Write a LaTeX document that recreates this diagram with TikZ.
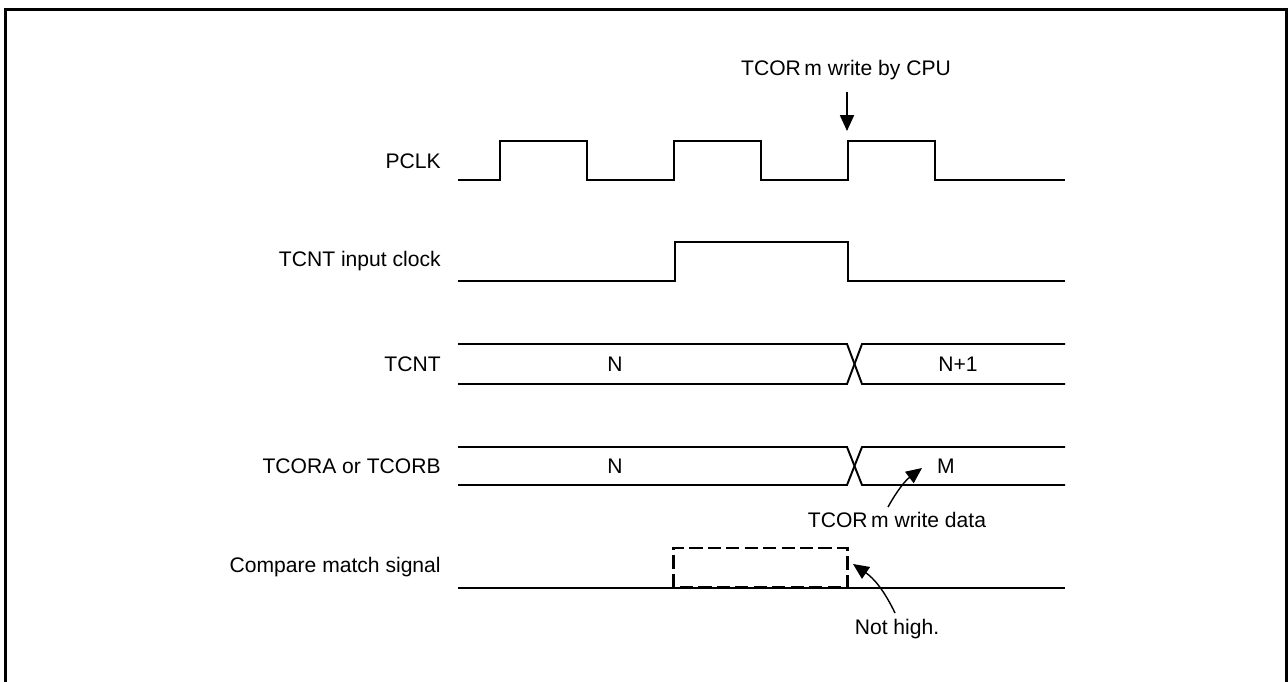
\documentclass[tikz,border=0pt]{standalone}
\usepackage{fontspec}
\setmainfont{Liberation Sans}
\usepackage{tikz}
\usetikzlibrary{arrows.meta,calc}

\begin{document}
\begin{tikzpicture}[x=0.02cm,y=-0.02cm,>={Triangle[length=9pt,width=8pt]},
  signal/.style={line width=1.1pt,line join=miter},
  etiqueta/.style={anchor=east,inner sep=0pt,font=\fontsize{12}{14}\selectfont},
  texto/.style={inner sep=1pt,font=\fontsize{12}{14}\selectfont}]
  \useasboundingbox (0,0) rectangle (1288,682);
  \draw[line width=1.8pt] (5.5,690) -- (5.5,9.5) -- (1286.5,9.5) -- (1286.5,690);
  \node[etiqueta] (pclk) at (441,161) {PCLK};
  \node[etiqueta] (inclk) at (441,261) {TCNT input clock};
  \node[etiqueta] (tcnt) at (441,364) {TCNT};
  \node[etiqueta] (tcor) at (441,466) {TCORA or TCORB};
  \node[etiqueta] (cmp) at (441,567) {Compare match signal};
  \draw[signal] (458,180) -- (500,180) -- (500,141) -- (587,141) -- (587,180)
    -- (674,180) -- (674,141) -- (761,141) -- (761,180) -- (848,180) -- (848,141)
    -- (935,141) -- (935,180) -- (1065,180);
  \draw[signal] (458,281) -- (675,281) -- (675,242) -- (848,242) -- (848,281) -- (1065,281);
  \draw[signal] (458,344) -- (847,344) -- (862,384) -- (1065,384);
  \draw[signal] (458,384) -- (847,384) -- (862,344) -- (1065,344);
  \draw[signal] (458,447) -- (847,447) -- (862,485) -- (1065,485);
  \draw[signal] (458,485) -- (847,485) -- (862,447) -- (1065,447);
  \draw[signal] (458,588) -- (1065,588);
  \draw[line width=1.7pt,dash pattern=on 7.5pt off 3pt] (673,587) rectangle (847,548);
  \node[texto] (nA) at (615,364) {N};
  \node[texto] (nB) at (958,364) {N+1};
  \node[texto] (nC) at (615,466) {N};
  \node[texto] (mC) at (946,466) {M};
  \node[texto] (cpu) at (846,70) {TCOR\,m write by CPU};
  \node[texto] (dato) at (897,520) {TCOR\,m write data};
  \node[texto] (alto) at (897,629) {Not high.};
  \coordinate (scpu) at (847,92);
  \coordinate (pcpu) at (847,131);
  \coordinate (sdato) at (888,507);
  \coordinate (pdato) at (922,468);
  \coordinate (salto) at (895,613);
  \coordinate (palto) at (853,564);
  \draw[->,line width=0.8pt] (scpu) -- (pcpu);
  \draw[->,line width=0.8pt] (sdato) to[bend left=12] (pdato);
  \draw[->,line width=0.8pt] (salto) to[bend right=15] (palto);
\end{tikzpicture}
\end{document}
